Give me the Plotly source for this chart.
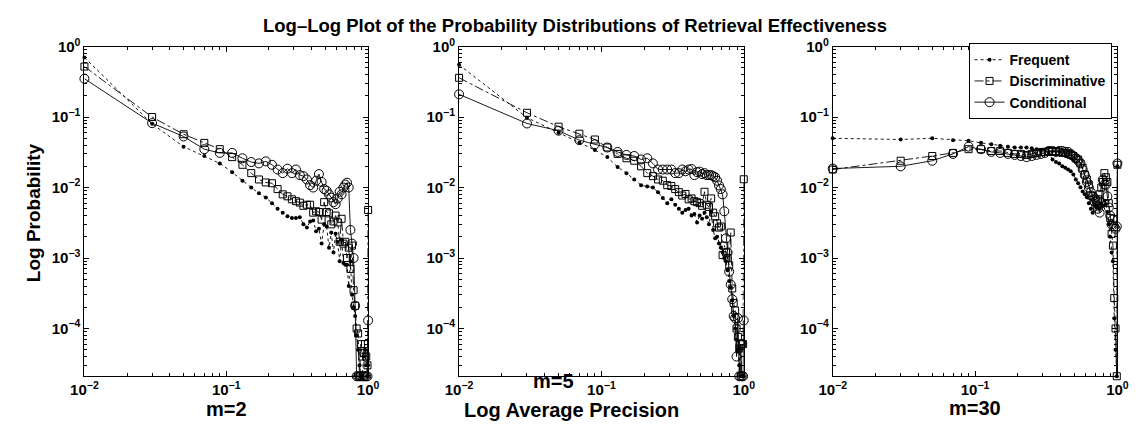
import plotly.graph_objects as go

# ---------------- data ----------------
AP_BINS = [0.01, 0.03, 0.05, 0.07, 0.09, 0.11, 0.13, 0.15, 0.17, 0.19,
           0.21, 0.23, 0.25, 0.27, 0.29, 0.31, 0.33, 0.35, 0.37, 0.39,
           0.41, 0.43, 0.45, 0.47, 0.49, 0.51, 0.53, 0.55, 0.57, 0.59,
           0.61, 0.63, 0.65, 0.67, 0.69, 0.71, 0.73, 0.75, 0.77, 0.79,
           0.81, 0.83, 0.85, 0.87, 0.89, 0.91, 0.93, 0.95, 0.97, 0.99, 1.00]

PANEL_LABELS = ["m=2", "m=5", "m=30"]
SERIES_NAMES = ["Frequent", "Discriminative", "Conditional"]

m2_frequent = [0.70, 0.080, 0.038, 0.028, 0.022, 0.0165, 0.0125, 0.0100, 0.0083, 0.0072,
               0.0060, 0.0050, 0.0044, 0.0039, 0.0037, 0.0037, 0.0038, 0.0030, 0.0027, 0.0033,
               0.0034, 0.0024, 0.0026, 0.0016, 0.0030, 0.0028, 0.0014, 0.0023, 0.0012, 0.0022,
               0.0017, 0.0009, 0.0018, 0.00085, 0.0008, 0.0008, 0.0004, 0.0009, 0.0003, 0.0002,
               0.00015, 0.00008, 0.00005, 0.00003, 0.000021, 0.000021, 0.00004, 0.00005, 0.00003, 0.000021, 0.00003]
m2_discriminative = [0.52, 0.100, 0.057, 0.043, 0.035, 0.027, 0.021, 0.016, 0.013, 0.0118,
                     0.0115, 0.0095, 0.0080, 0.0075, 0.0068, 0.0064, 0.0061, 0.0055, 0.0057, 0.0057,
                     0.0044, 0.0046, 0.0045, 0.0035, 0.0062, 0.0045, 0.0043, 0.0030, 0.0033, 0.0040,
                     0.0032, 0.0017, 0.0036, 0.0016, 0.0017, 0.0010, 0.0014, 0.0007, 0.0015, 0.00035,
                     0.00021, 0.00010, 0.000085, 0.000021, 0.00006, 0.00004, 0.000045, 0.00006, 0.00004, 0.00003, 0.0048]
m2_conditional = [0.35, 0.082, 0.053, 0.035, 0.031, 0.031, 0.026, 0.023, 0.022, 0.0235,
                  0.021, 0.018, 0.016, 0.0185, 0.016, 0.018, 0.015, 0.0145, 0.013, 0.0108,
                  0.0100, 0.0125, 0.0155, 0.0120, 0.0095, 0.0090, 0.0080, 0.0072, 0.0062, 0.0058,
                  0.0070, 0.0087, 0.0080, 0.0100, 0.0110, 0.0117, 0.0100, 0.0025, 0.0016, 0.0010,
                  0.00021, 0.000021, 0.000021, 0.000021, 0.000021, 0.000021, 0.000021, 0.000021, 0.000021, 0.000021, 0.00013]

m5_frequent = [0.55, 0.098, 0.060, 0.043, 0.034, 0.027, 0.0195, 0.016, 0.013, 0.0108,
               0.0103, 0.0100, 0.0086, 0.0071, 0.0060, 0.0068, 0.0057, 0.0050, 0.0044, 0.0048,
               0.0050, 0.0040, 0.0042, 0.0032, 0.0040, 0.0036, 0.0044, 0.0038, 0.0030, 0.0045,
               0.0025, 0.0019, 0.0020, 0.0016, 0.0014, 0.0012, 0.0010, 0.0009, 0.00067, 0.00047,
               0.00038, 0.00025, 0.00015, 0.00010, 0.00007, 0.00005, 0.00003, 0.000021, 0.000021, 0.000021, 0.000021]
m5_discriminative = [0.36, 0.115, 0.073, 0.058, 0.048, 0.037, 0.030, 0.026, 0.024, 0.020,
                     0.016, 0.0145, 0.013, 0.0125, 0.0108, 0.0105, 0.0095, 0.0086, 0.0077, 0.0081,
                     0.0068, 0.0070, 0.0064, 0.0062, 0.0060, 0.0055, 0.0087, 0.0057, 0.0053, 0.0070,
                     0.0044, 0.0039, 0.0031, 0.0027, 0.0028, 0.0011, 0.0015, 0.0012, 0.0010, 0.00079,
                     0.0023, 0.00037, 0.00023, 0.00018, 0.00010, 0.000076, 0.000052, 0.000021, 0.00006, 0.00006, 0.0131]
m5_conditional = [0.21, 0.081, 0.064, 0.047, 0.041, 0.037, 0.032, 0.029, 0.028, 0.025,
                  0.026, 0.022, 0.018, 0.018, 0.018, 0.018, 0.016, 0.016, 0.018, 0.017,
                  0.018, 0.0183, 0.015, 0.0165, 0.0168, 0.0155, 0.016, 0.0150, 0.015, 0.0150,
                  0.0145, 0.0140, 0.0125, 0.0107, 0.0095, 0.0080, 0.0046, 0.0019, 0.0012, 0.00064,
                  0.00042, 0.00026, 0.00015, 0.00014, 0.00004, 0.00014, 0.000021, 0.00006, 0.000021, 0.000021, 0.00013]

m30_frequent = [0.050, 0.048, 0.050, 0.047, 0.046, 0.043, 0.041, 0.039, 0.038, 0.037,
                0.037, 0.037, 0.036, 0.035, 0.034, 0.034, 0.030, 0.025, 0.023, 0.022,
                0.020, 0.019, 0.018, 0.017, 0.0153, 0.013, 0.0115, 0.0101, 0.0088, 0.0080,
                0.0073, 0.0060, 0.0050, 0.0044, 0.0057, 0.0052, 0.0055, 0.0050, 0.0060, 0.0055,
                0.0065, 0.0058, 0.0045, 0.0030, 0.0020, 0.0012, 0.0009, 0.00014, 0.00005, 0.000021, 0.020]
m30_discriminative = [0.018, 0.024, 0.028, 0.031, 0.035, 0.035, 0.033, 0.033, 0.031, 0.030,
                      0.030, 0.029, 0.030, 0.031, 0.032, 0.032, 0.033, 0.032, 0.033, 0.032,
                      0.031, 0.031, 0.030, 0.029, 0.028, 0.026, 0.025, 0.022, 0.019, 0.0153,
                      0.013, 0.011, 0.0077, 0.0075, 0.0070, 0.0065, 0.0068, 0.0080, 0.0100, 0.0120,
                      0.0160, 0.0140, 0.0120, 0.0060, 0.0037, 0.0022, 0.0015, 0.00027, 0.00010, 0.000021, 0.021]
m30_conditional = [0.0186, 0.020, 0.024, 0.030, 0.038, 0.035, 0.032, 0.031, 0.030, 0.029,
                   0.028, 0.027, 0.028, 0.029, 0.030, 0.031, 0.033, 0.033, 0.032, 0.033,
                   0.033, 0.032, 0.032, 0.030, 0.028, 0.026, 0.024, 0.022, 0.018, 0.015,
                   0.012, 0.010, 0.0086, 0.0075, 0.0063, 0.0055, 0.0050, 0.0044, 0.0060, 0.0129,
                   0.0110, 0.0110, 0.0075, 0.0052, 0.0040, 0.0030, 0.0035, 0.0028, 0.0026, 0.0028, 0.022]

PANELS = [
    [m2_frequent, m2_discriminative, m2_conditional],
    [m5_frequent, m5_discriminative, m5_conditional],
    [m30_frequent, m30_discriminative, m30_conditional],
]

X_TICKVALS = [0.01, 0.1, 1]
X_TICKTEXT = ["10<sup>−2</sup>", "10<sup>−1</sup>", "10<sup>0</sup>"]
Y_TICKVALS = [1e-4, 1e-3, 1e-2, 1e-1, 1]
Y_TICKTEXT = ["10<sup>−4</sup>", "10<sup>−3</sup>", "10<sup>−2</sup>", "10<sup>−1</sup>", "10<sup>0</sup>"]

# ---------------- styling ----------------
W, H = 1147, 424
FONT = "Liberation Sans, Arial, Helvetica, sans-serif"
STYLES = [
    dict(line=dict(color="black", width=0.9, dash="dot"),
         marker=dict(symbol="circle", size=4, color="black")),
    dict(line=dict(color="black", width=0.9, dash="dashdot"),
         marker=dict(symbol="square-open", size=7, color="black", line=dict(width=1, color="black"))),
    dict(line=dict(color="black", width=0.9, dash="solid"),
         marker=dict(symbol="circle-open", size=9, color="black", line=dict(width=1, color="black"))),
]

x_domains = [[72 / W, 362 / W], [455 / W, 746 / W], [837 / W, 1128 / W]]
y_domain = [1 - 375 / H, 1 - 36.5 / H]
y_range = [-4.678, 0]

x_minor = [k * 10 ** e for e in (-2, -1) for k in range(2, 10)]
y_minor = [k * 10 ** e for e in (-5, -4, -3, -2, -1) for k in range(2, 10) if k * 10 ** e >= 2.1e-5]

fig = go.Figure()
for p, series in enumerate(PANELS):
    ax = "" if p == 0 else str(p + 1)
    for s, vals in enumerate(series):
        fig.add_trace(go.Scatter(
            x=AP_BINS, y=vals, mode="lines+markers", name=SERIES_NAMES[s],
            xaxis="x" + ax, yaxis="y" + ax, cliponaxis=False,
            showlegend=(p == 2), **STYLES[s]))

tickfont = dict(family=FONT, size=15, color="black", weight="bold")
layout = dict(
    width=W, height=424, margin=dict(l=0, r=0, t=0, b=0),
    paper_bgcolor="white", plot_bgcolor="white",
    font=dict(family=FONT, color="black"),
    legend=dict(x=1122 / W, xanchor="right", y=1 - 33 / H, yanchor="top",
                bgcolor="white", bordercolor="black", borderwidth=1,
                font=dict(family=FONT, size=14, color="black", weight="bold"),
                tracegroupgap=0, itemwidth=30),
)
for p in range(3):
    ax = "" if p == 0 else str(p + 1)
    layout["xaxis" + ax] = dict(
        type="log", range=[-2, 0], domain=x_domains[p], anchor="y" + ax,
        showline=True, linecolor="black", linewidth=1, mirror="allticks",
        ticks="inside", ticklen=5, tickcolor="black",
        tickmode="array", tickvals=X_TICKVALS, ticktext=X_TICKTEXT, tickfont=tickfont,
        showgrid=False, zeroline=False,
        minor=dict(ticks="inside", ticklen=3, tickcolor="black", tickmode="array",
                   tickvals=x_minor, showgrid=False))
    layout["yaxis" + ax] = dict(
        type="log", range=y_range, domain=y_domain, anchor="x" + ax,
        showline=True, linecolor="black", linewidth=1, mirror="allticks",
        ticks="inside", ticklen=5, tickcolor="black",
        tickmode="array", tickvals=Y_TICKVALS, ticktext=Y_TICKTEXT, tickfont=tickfont,
        showgrid=False, zeroline=False,
        minor=dict(ticks="inside", ticklen=3, tickcolor="black", tickmode="array",
                   tickvals=y_minor, showgrid=False))
fig.update_layout(**layout)

def note(text, px, py, size, angle=0):
    fig.add_annotation(text=text, x=px / W, y=1 - py / H, xref="paper", yref="paper",
                       showarrow=False, xanchor="center", yanchor="middle", textangle=angle,
                       font=dict(family=FONT, size=size, color="black", weight="bold"))

note("Log–Log Plot of the Probability Distributions of Retrieval Effectiveness", 573, 15, 18.5)
note("Log Probability", 20, 207, 19, -90)
note(PANEL_LABELS[0], 217, 409, 20)
note(PANEL_LABELS[1], 552, 380, 20)
note("Log Average Precision", 570, 410, 20)
note(PANEL_LABELS[2], 982, 408, 20)

fig.write_html("out.html")
